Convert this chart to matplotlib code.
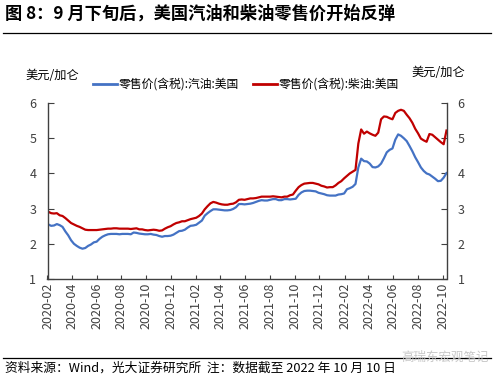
import numpy as np
import pandas as pd
import matplotlib
matplotlib.use('Agg')
import matplotlib.pyplot as plt
import matplotlib.dates as mdates
from matplotlib.lines import Line2D

plt.rcParams['font.family'] = ['Noto Sans CJK SC', 'DejaVu Sans']
plt.rcParams['axes.unicode_minus'] = False

# weekly dates (Mondays) 2020-02-03 .. 2022-10-10
dates = pd.date_range('2020-02-03', '2022-10-10', freq='7D')

# gasoline retail price, USD/gallon
gas_2020 = [2.55, 2.51, 2.52, 2.56, 2.53, 2.48, 2.35, 2.24, 2.10, 2.00, 1.94, 1.89,
            1.86, 1.88, 1.94, 1.98, 2.04, 2.06, 2.14, 2.20, 2.24, 2.27, 2.28, 2.28,
            2.28, 2.27, 2.28, 2.28, 2.28, 2.27, 2.32, 2.31, 2.29, 2.28, 2.27, 2.27,
            2.28, 2.26, 2.25, 2.22, 2.20, 2.22, 2.22, 2.23, 2.26, 2.31, 2.36, 2.37]
gas_2021 = [2.40, 2.46, 2.51, 2.52, 2.54, 2.60, 2.66, 2.80, 2.87, 2.93, 2.98, 2.98,
            2.97, 2.96, 2.95, 2.95, 2.96, 2.99, 3.04, 3.13, 3.13, 3.12, 3.13, 3.14,
            3.16, 3.19, 3.22, 3.24, 3.23, 3.23, 3.25, 3.27, 3.27, 3.24, 3.24, 3.27,
            3.27, 3.26, 3.27, 3.28, 3.39, 3.46, 3.50, 3.51, 3.51, 3.50, 3.49, 3.45,
            3.43, 3.41, 3.38, 3.37]
gas_2022 = [3.37, 3.37, 3.40, 3.41, 3.43, 3.55, 3.58, 3.62, 3.70, 4.17, 4.42, 4.35,
            4.34, 4.28, 4.18, 4.17, 4.20, 4.28, 4.43, 4.60, 4.67, 4.71, 4.96, 5.11,
            5.07, 5.00, 4.92, 4.78, 4.63, 4.46, 4.32, 4.17, 4.07, 4.00, 3.97, 3.91,
            3.85, 3.78, 3.79, 3.88, 4.01]

# diesel retail price, USD/gallon
dsl_2020 = [2.91, 2.87, 2.86, 2.87, 2.81, 2.79, 2.73, 2.66, 2.59, 2.55, 2.51, 2.48,
            2.44, 2.40, 2.39, 2.39, 2.39, 2.39, 2.40, 2.41, 2.42, 2.43, 2.43, 2.44,
            2.44, 2.43, 2.43, 2.43, 2.43, 2.42, 2.43, 2.44, 2.41, 2.41, 2.39, 2.38,
            2.39, 2.40, 2.39, 2.37, 2.38, 2.43, 2.47, 2.50, 2.55, 2.59, 2.61, 2.64]
dsl_2021 = [2.64, 2.67, 2.70, 2.72, 2.74, 2.79, 2.86, 2.98, 3.07, 3.15, 3.19, 3.17,
            3.14, 3.12, 3.11, 3.11, 3.13, 3.14, 3.18, 3.25, 3.26, 3.25, 3.27, 3.29,
            3.29, 3.30, 3.32, 3.34, 3.34, 3.34, 3.34, 3.35, 3.34, 3.33, 3.32, 3.34,
            3.34, 3.38, 3.40, 3.51, 3.61, 3.67, 3.71, 3.72, 3.73, 3.73, 3.71, 3.69,
            3.65, 3.63, 3.60, 3.61]
dsl_2022 = [3.61, 3.66, 3.73, 3.78, 3.86, 3.93, 4.00, 4.05, 4.10, 4.85, 5.25, 5.13,
            5.19, 5.14, 5.10, 5.07, 5.16, 5.54, 5.62, 5.61, 5.57, 5.54, 5.72, 5.78,
            5.81, 5.78, 5.67, 5.57, 5.44, 5.27, 5.14, 4.99, 4.94, 4.90, 5.12, 5.10,
            5.03, 4.96, 4.89, 4.83, 5.22]

gasoline = gas_2020 + gas_2021 + gas_2022
diesel = dsl_2020 + dsl_2021 + dsl_2022

yticks = [1, 2, 3, 4, 5, 6]
xtick_dates = pd.date_range('2020-02-01', '2022-10-01', freq='2MS')

title = '图 8：9 月下旬后，美国汽油和柴油零售价开始反弹'
unit = '美元/加仑'
gas_label = '零售价(含税):汽油:美国'
dsl_label = '零售价(含税):柴油:美国'
source = '资料来源：Wind，光大证券研究所  注：数据截至 2022 年 10 月 10 日'

blue = '#4472C4'
red = '#C00000'
axcol = '#404040'

fig = plt.figure(figsize=(5.0, 3.79), dpi=100)
ax = fig.add_axes([0.095, 0.264, 0.798, 0.464])

ax.plot(dates, gasoline, color=blue, lw=1.6)
ax.plot(dates, diesel, color=red, lw=1.6)

ax.set_ylim(1, 6)
ax.set_yticks(yticks)
ax.set_xlim(pd.Timestamp('2020-02-01'), pd.Timestamp('2022-10-10'))
ax.set_xticks(xtick_dates)
ax.xaxis.set_major_formatter(mdates.DateFormatter('%Y-%m'))
ax.tick_params(axis='x', rotation=90, direction='in', length=3, labelsize=9,
               colors=axcol, pad=3)
ax.tick_params(axis='y', direction='in', length=4, labelsize=9, colors=axcol,
               labelleft=True, labelright=True, right=True, pad=8)
for s in ['left', 'right', 'bottom']:
    ax.spines[s].set_color(axcol)
    ax.spines[s].set_linewidth(1.0)
ax.spines['top'].set_visible(False)

# title and rules
fig.text(0.01, 0.965, title, fontsize=12.4, fontweight='bold', va='center', ha='left')
fig.add_artist(Line2D([0.006, 0.982], [0.912, 0.912], color='black', lw=0.9))
fig.add_artist(Line2D([0.006, 0.982], [0.055, 0.055], color='black', lw=0.9))
fig.text(0.01, 0.03, source, fontsize=9.2, va='center', ha='left')
fig.text(0.89, 0.058, '高瑞东宏观笔记', fontsize=9, va='center', ha='center',
         color='#c8c8c8')

# units
fig.text(0.05, 0.80, unit, fontsize=8.8, va='center', ha='left')
fig.text(0.93, 0.81, unit, fontsize=8.8, va='center', ha='right')

# legend
fig.add_artist(Line2D([0.186, 0.234], [0.778, 0.778], color=blue, lw=2))
fig.text(0.238, 0.778, gas_label, fontsize=8.5, va='center', ha='left')
fig.add_artist(Line2D([0.506, 0.554], [0.778, 0.778], color=red, lw=2))
fig.text(0.558, 0.778, dsl_label, fontsize=8.5, va='center', ha='left')

fig.savefig('out.png', dpi=100)
